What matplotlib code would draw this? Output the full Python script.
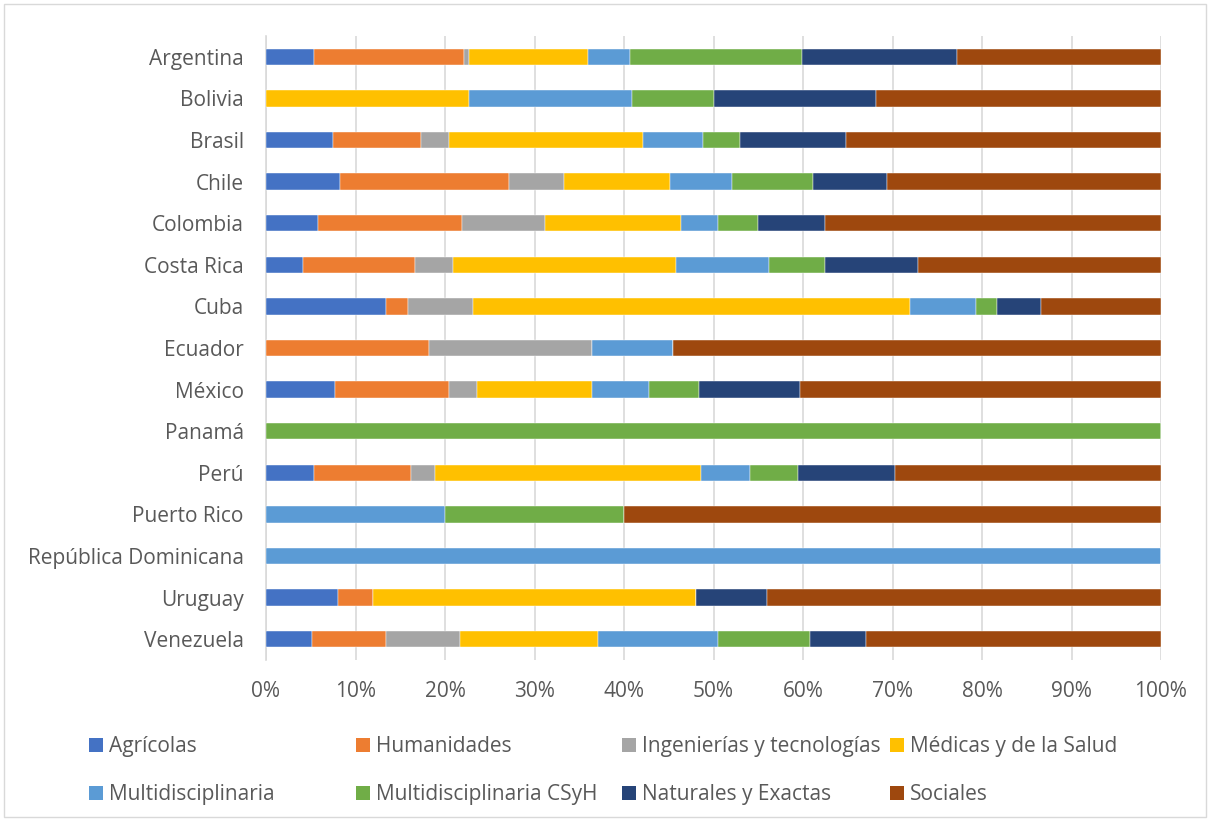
import matplotlib
matplotlib.use("Agg")
import matplotlib.pyplot as plt
import numpy as np
from matplotlib.patches import Patch, Rectangle

countries = ["Argentina", "Bolivia", "Brasil", "Chile", "Colombia", "Costa Rica", "Cuba",
             "Ecuador", "México", "Panamá", "Perú", "Puerto Rico", "República Dominicana",
             "Uruguay", "Venezuela"]
series_names = ["Agrícolas", "Humanidades", "Ingenierías y tecnologías", "Médicas y de la Salud",
                "Multidisciplinaria", "Multidisciplinaria CSyH", "Naturales y Exactas", "Sociales"]

agricolas      = [5.4, 0.0, 7.45, 8.3, 5.8, 4.17, 13.4, 0.0, 7.75, 0.0, 5.4, 0.0, 0.0, 8.0, 5.15]
humanidades    = [16.7, 0.0, 9.9, 18.8, 16.1, 12.5, 2.4, 18.2, 12.75, 0.0, 10.8, 0.0, 0.0, 4.0, 8.25]
ingenierias    = [0.6, 0.0, 3.15, 6.2, 9.3, 4.17, 7.3, 18.2, 3.1, 0.0, 2.7, 0.0, 0.0, 0.0, 8.25]
medicas        = [13.3, 22.7, 21.6, 11.8, 15.2, 25.0, 48.8, 0.0, 12.8, 0.0, 29.7, 0.0, 0.0, 36.0, 15.5]
multidisc      = [4.7, 18.2, 6.7, 7.0, 4.1, 10.4, 7.3, 9.1, 6.4, 0.0, 5.4, 20.0, 100.0, 0.0, 13.4]
multidisc_csyh = [19.2, 9.1, 4.2, 9.0, 4.5, 6.25, 2.4, 0.0, 5.6, 100.0, 5.4, 20.0, 0.0, 0.0, 10.3]
naturales      = [17.3, 18.2, 11.8, 8.3, 7.5, 10.4, 4.9, 0.0, 11.3, 0.0, 10.8, 0.0, 0.0, 8.0, 6.2]
sociales       = [22.8, 31.8, 35.2, 30.6, 37.5, 27.1, 13.4, 54.5, 40.3, 0.0, 29.7, 60.0, 0.0, 44.0, 33.0]

colors = ["#4472C4", "#ED7D31", "#A5A5A5", "#FFC000", "#5B9BD5", "#70AD47", "#264478", "#9E480E"]
series = [agricolas, humanidades, ingenierias, medicas, multidisc, multidisc_csyh, naturales, sociales]

font = "Open Sans"
plt.rcParams['font.family'] = [font, 'DejaVu Sans']
txt_color = "#595959"
fs = 15

fig = plt.figure(figsize=(12.10, 8.19), dpi=100)
ax = fig.add_axes([266/1210, 1-660/819, (1161-266)/1210, (660-36)/819])

data = np.array(series, dtype=float)
totals = data.sum(axis=0)
pct = data / totals * 100.0
y = np.arange(len(countries))
left = np.zeros(len(countries))
for i, name in enumerate(series_names):
    ax.barh(y, pct[i], left=left, height=0.39, color=colors[i], label=name,
            edgecolor="white", linewidth=0.3, zorder=3)
    left += pct[i]

ax.set_ylim(len(countries) - 0.5, -0.5)
ax.set_xlim(0, 100)
ax.set_xticks(np.arange(0, 101, 10))
ax.set_xticklabels([f"{v}%" for v in range(0, 101, 10)])
ax.set_yticks(y)
ax.set_yticklabels(countries)
ax.tick_params(axis='both', length=0, labelsize=fs, labelcolor=txt_color)
ax.tick_params(axis='y', pad=16)
ax.tick_params(axis='x', pad=15)
ax.grid(axis='x', color="#D9D9D9", linewidth=1.2, zorder=0)
for s in ["top", "right", "bottom"]:
    ax.spines[s].set_visible(False)
ax.spines["left"].set_color("#D9D9D9")
ax.spines["left"].set_linewidth(1.2)

# legend: four columns, placed manually
col_x = [89/1210, 356/1210, 622/1210, 890/1210]
handles = [Patch(facecolor=c, edgecolor='none') for c in colors]
for k in range(4):
    hs = [handles[k], handles[k + 4]]
    ls = [series_names[k], series_names[k + 4]]
    fig.legend(hs, ls, loc="upper left", bbox_to_anchor=(col_x[k], 1-736/819), frameon=False,
               fontsize=fs, labelcolor=txt_color, handlelength=0.67, handleheight=0.67,
               handletextpad=0.3, labelspacing=1.3, borderpad=0, borderaxespad=0)

fig.patches.append(Rectangle((4/1210, 2/819), 1-8/1210, 1-6/819, transform=fig.transFigure,
                             fill=False, edgecolor="#D9D9D9", linewidth=1))

fig.savefig("out.png", dpi=100)
